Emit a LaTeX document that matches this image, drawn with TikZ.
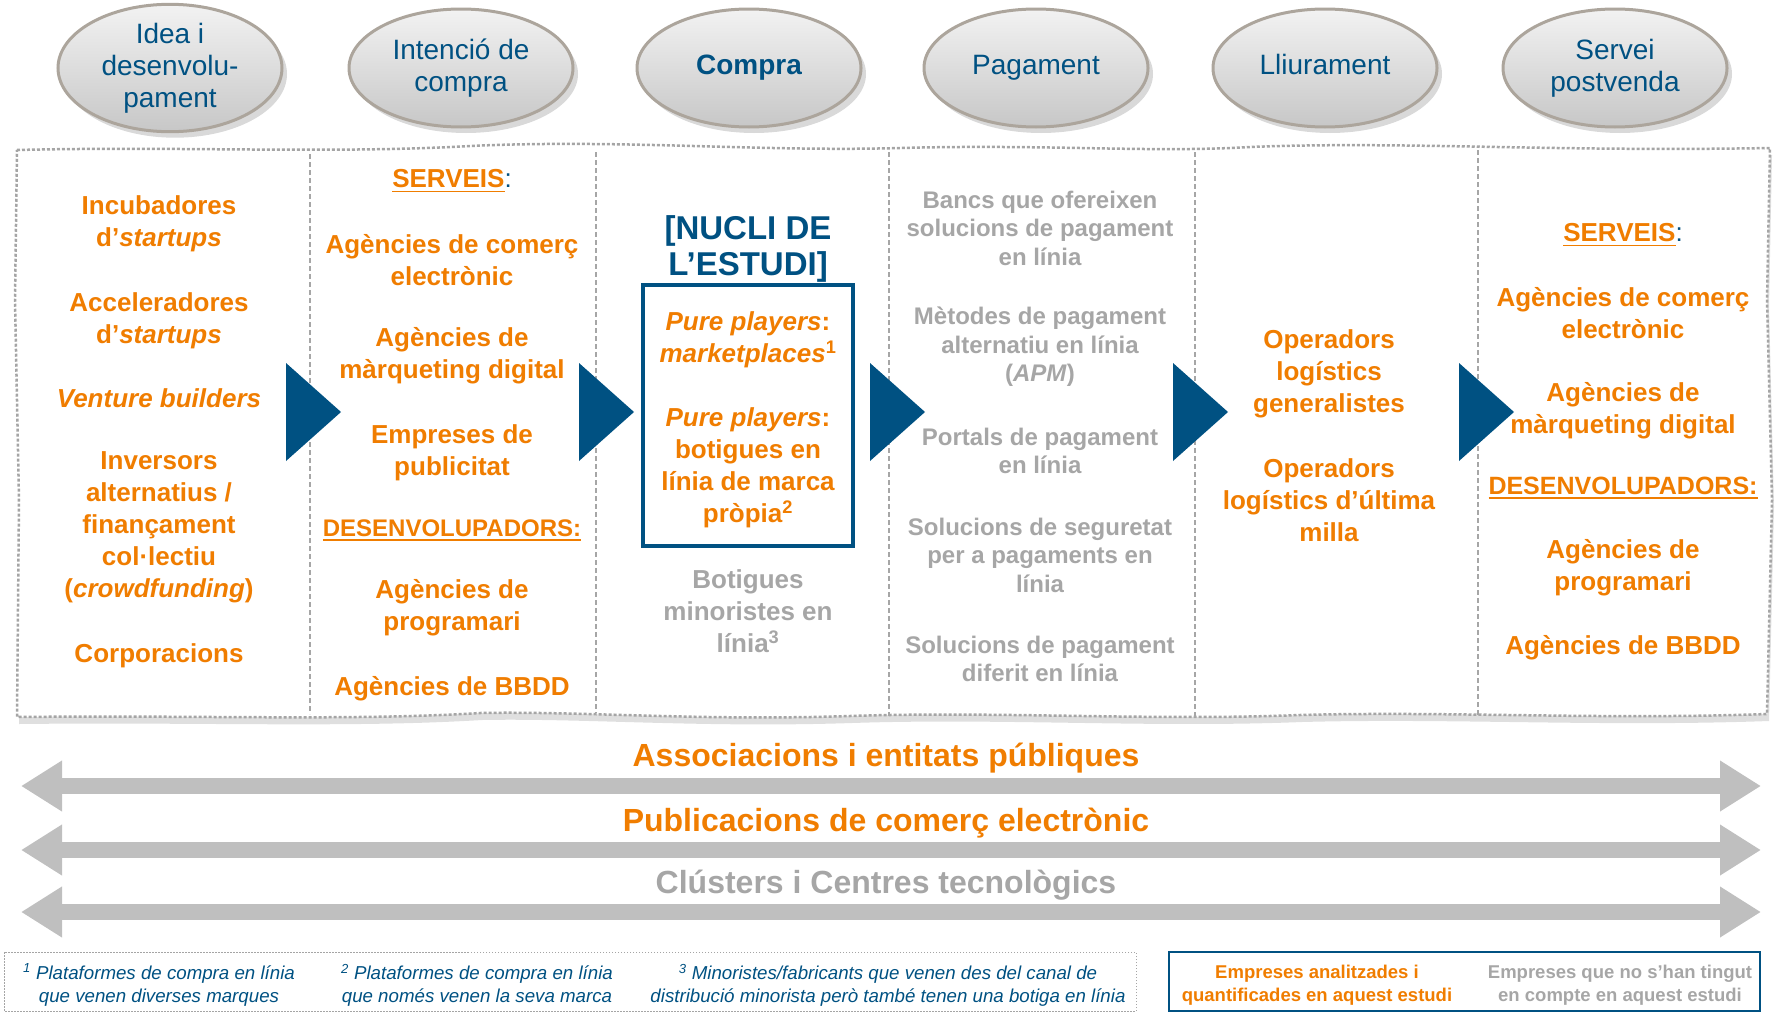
\documentclass[tikz,border=0pt]{standalone}
\usepackage{fontspec}
\setmainfont{Liberation Sans}
\usetikzlibrary{shapes.geometric,arrows.meta,shadows}

\definecolor{nucliblue}{RGB}{0,81,130}
\definecolor{actororange}{RGB}{240,125,0}
\definecolor{othergray}{RGB}{166,166,166}
\definecolor{bandgray}{RGB}{191,191,191}
\definecolor{rimgray}{RGB}{172,165,156}
\definecolor{framegray}{RGB}{165,165,165}

\newcommand\bodyfont{\fontsize{26}{32}\selectfont\bfseries}
\newcommand\otherfont{\fontsize{24}{28.5}\selectfont\bfseries}
\newcommand\stagefont{\fontsize{28}{32}\selectfont}
\newcommand\bandfont{\fontsize{32}{36}\selectfont\bfseries}
\newcommand\notefont{\fontsize{18.7}{23}\selectfont}
\newcommand\uln[1]{\setbox0=\hbox{#1}\makebox[0pt][l]{\rule[-4.5pt]{\wd0}{1.8pt}}\box0}
\newcommand\hdr[1]{\uln{#1}{\color{nucliblue}\mdseries:}}

\tikzset{
  stage/.style={ellipse, minimum width=224pt, minimum height=118pt, inner sep=0pt,
    draw=rimgray, line width=3pt, top color=white!95!black, bottom color=white!78!black,
    text=nucliblue, font=\stagefont, align=center,
    drop shadow={shadow xshift=5pt, shadow yshift=-6pt, opacity=0.3}},
  actor/.style={text=actororange, font=\bodyfont, align=center, inner sep=0pt},
  other/.style={text=othergray, font=\otherfont, align=center, inner sep=0pt},
  frame/.style={draw=framegray, line width=2.5pt, dash pattern=on 3pt off 2pt, fill=white,
    drop shadow={shadow xshift=2pt, shadow yshift=-7pt, opacity=0.25}},
  colrule/.style={draw=othergray, line width=1.2pt, dash pattern=on 5pt off 3pt},
  band/.style={draw=bandgray, line width=16pt,
    {Triangle[length=41pt,width=48pt]}-{Triangle[length=41pt,width=48pt]}},
  note/.style={text=nucliblue, font=\notefont\itshape, align=center, inner sep=0pt},
  legend/.style={font=\fontsize{18.5}{23}\selectfont\bfseries, align=center, inner sep=0pt}
}

\begin{document}
\begin{tikzpicture}[x=1pt, y=-1pt]

  \useasboundingbox (0,0) rectangle (1780,1012);

  \newcommand\tipW{55}
  \newcommand\tipH{49}

  %% wavy frame
  \path[frame] (17,150)
    .. controls (180,146) and (330,154) .. (470,146)
    .. controls (620,139) and (760,152) .. (900,148)
    .. controls (1050,144) and (1150,153) .. (1250,147)
    .. controls (1400,141) and (1550,152) .. (1770,148)
    -- (1767,300) -- (1772,500) -- (1767,714)
    .. controls (1600,720) and (1450,711) .. (1300,715)
    .. controls (1150,721) and (1000,711) .. (850,716)
    .. controls (700,721) and (580,711) .. (480,713)
    .. controls (350,721) and (200,715) .. (17,717)
    -- (19,500) -- (15,300) -- cycle;

  \draw[colrule] (310,154) -- (310,714);
  \draw[colrule] (596,152) -- (596,713);
  \draw[colrule] (889,152) -- (889,716);
  \draw[colrule] (1195,152) -- (1195,717);
  \draw[colrule] (1478,150) -- (1478,715);

  %% stages
  \node[stage] (idea) at (170,68) {Idea i\\desenvolu-\\pament};
  \node[stage] (intent) at (461,68) {Intenció de\\compra};
  \node[stage, font=\stagefont\bfseries] (buy) at (749,68) {\strut Compra};
  \node[stage] (pay) at (1036,68) {\strut Pagament};
  \node[stage] (ship) at (1325,68) {\strut Lliurament};
  \node[stage] (after) at (1615,68) {Servei\\postvenda};

  %% flow triangles
  \fill[nucliblue] (286,363) -- ++(\tipW,\tipH) -- ++(-\tipW,\tipH) -- cycle;
  \fill[nucliblue] (579,363) -- ++(\tipW,\tipH) -- ++(-\tipW,\tipH) -- cycle;
  \fill[nucliblue] (870,363) -- ++(\tipW,\tipH) -- ++(-\tipW,\tipH) -- cycle;
  \fill[nucliblue] (1173,363) -- ++(\tipW,\tipH) -- ++(-\tipW,\tipH) -- cycle;
  \fill[nucliblue] (1459,363) -- ++(\tipW,\tipH) -- ++(-\tipW,\tipH) -- cycle;

  %% idea
  \node[actor] (incub) at (159,224) {Incubadores\\d’\textit{startups}};
  \node[actor] (accel) at (159,321) {Acceleradores\\d’\textit{startups}};
  \node[actor] (venture) at (159,398) {\textit{Venture builders}};
  \node[actor] (invest) at (159,527) {Inversors\\alternatius /\\finançament\\col·lectiu\\(\textit{crowdfunding})};
  \node[actor] (corp) at (159,656) {Corporacions};

  %% intent
  \node[actor] (servA) at (452,181) {\hdr{SERVEIS}};
  \node[actor] (ecomA) at (452,260) {Agències de comerç\\electrònic};
  \node[actor] (mktA) at (452,356) {Agències de\\màrqueting digital};
  \node[actor] (adv) at (452,453) {Empreses de\\publicitat};
  \node[actor, font=\fontsize{24}{30}\selectfont\bfseries] (devA) at (452,530) {\uln{DESENVOLUPADORS:}};
  \node[actor] (softA) at (452,608) {Agències de\\programari};
  \node[actor] (dbA) at (452,689) {Agències de BBDD};

  %% buy
  \node[text=nucliblue, font=\fontsize{33}{36}\selectfont\bfseries, align=center] (nucli) at (748,249) {[NUCLI DE\\L’ESTUDI]};
  \node[draw=nucliblue, line width=4pt, minimum width=210pt, minimum height=261pt] (core) at (748,415) {};
  \node[actor] (market) at (748,340) {\textit{Pure players}:\\\textit{marketplaces}\textsuperscript{1}};
  \node[actor] (brand) at (748,468) {\textit{Pure players}:\\botigues en\\línia de marca\\pròpia\textsuperscript{2}};
  \node[other, font=\bodyfont] (retail) at (748,611) {Botigues\\minoristes en\\línia\textsuperscript{3}};

  %% pay
  \node[other] (banks) at (1040,228) {Bancs que ofereixen\\solucions de pagament\\en línia};
  \node[other] (apm) at (1040,347) {Mètodes de pagament\\alternatiu en línia\\(\textit{APM})};
  \node[other] (portal) at (1040,451) {Portals de pagament\\en línia};
  \node[other] (secure) at (1040,555) {Solucions de seguretat\\per a pagaments en\\línia};
  \node[other] (defer) at (1040,659) {Solucions de pagament\\diferit en línia};

  %% ship
  \node[actor] (logA) at (1329,374) {Operadors\\logístics\\generalistes};
  \node[actor] (logB) at (1329,500) {Operadors\\logístics d’última\\milla};

  %% after
  \node[actor] (servB) at (1623,235) {\hdr{SERVEIS}};
  \node[actor] (ecomB) at (1623,313) {Agències de comerç\\electrònic};
  \node[actor] (mktB) at (1623,411) {Agències de\\màrqueting digital};
  \node[actor, font=\fontsize{25}{30}\selectfont\bfseries] (devB) at (1623,488) {\uln{DESENVOLUPADORS:}};
  \node[actor] (softB) at (1623,568) {Agències de\\programari};
  \node[actor] (dbB) at (1623,648) {Agències de BBDD};

  %% transversal bands
  \coordinate (assocL) at (21,786);   \coordinate (assocR) at (1761,786);
  \coordinate (pubL) at (21,850);     \coordinate (pubR) at (1761,850);
  \coordinate (clusL) at (21,912);    \coordinate (clusR) at (1761,912);
  \draw[band] (assocL) -- (assocR);
  \draw[band] (pubL) -- (pubR);
  \draw[band] (clusL) -- (clusR);
  \node[text=actororange, font=\bandfont] (assoc) at (886,758) {Associacions i entitats públiques};
  \node[text=actororange, font=\bandfont] (pub) at (886,823) {Publicacions de comerç electrònic};
  \node[text=othergray, font=\bandfont] (clus) at (886,885) {Clústers i Centres tecnològics};

  %% notes and legend
  \draw[framegray, line width=1pt, dash pattern=on 1.5pt off 1.5pt] (4,952) rectangle (1136,1011);
  \node[note] (noteA) at (159,985) {\textsuperscript{1} Plataformes de compra en línia\\que venen diverses marques};
  \node[note] (noteB) at (477,985) {\textsuperscript{2} Plataformes de compra en línia\\que només venen la seva marca};
  \node[note] (noteC) at (888,985) {\textsuperscript{3} Minoristes/fabricants que venen des del canal de\\distribució minorista però també tenen una botiga en línia};
  \draw[nucliblue, line width=1.5pt] (1169,952) rectangle (1760,1011);
  \node[legend, text=actororange] (legA) at (1317,985) {Empreses analitzades i\\quantificades en aquest estudi};
  \node[legend, text=othergray] (legB) at (1620,985) {Empreses que no s’han tingut\\en compte en aquest estudi};

\end{tikzpicture}
\end{document}
